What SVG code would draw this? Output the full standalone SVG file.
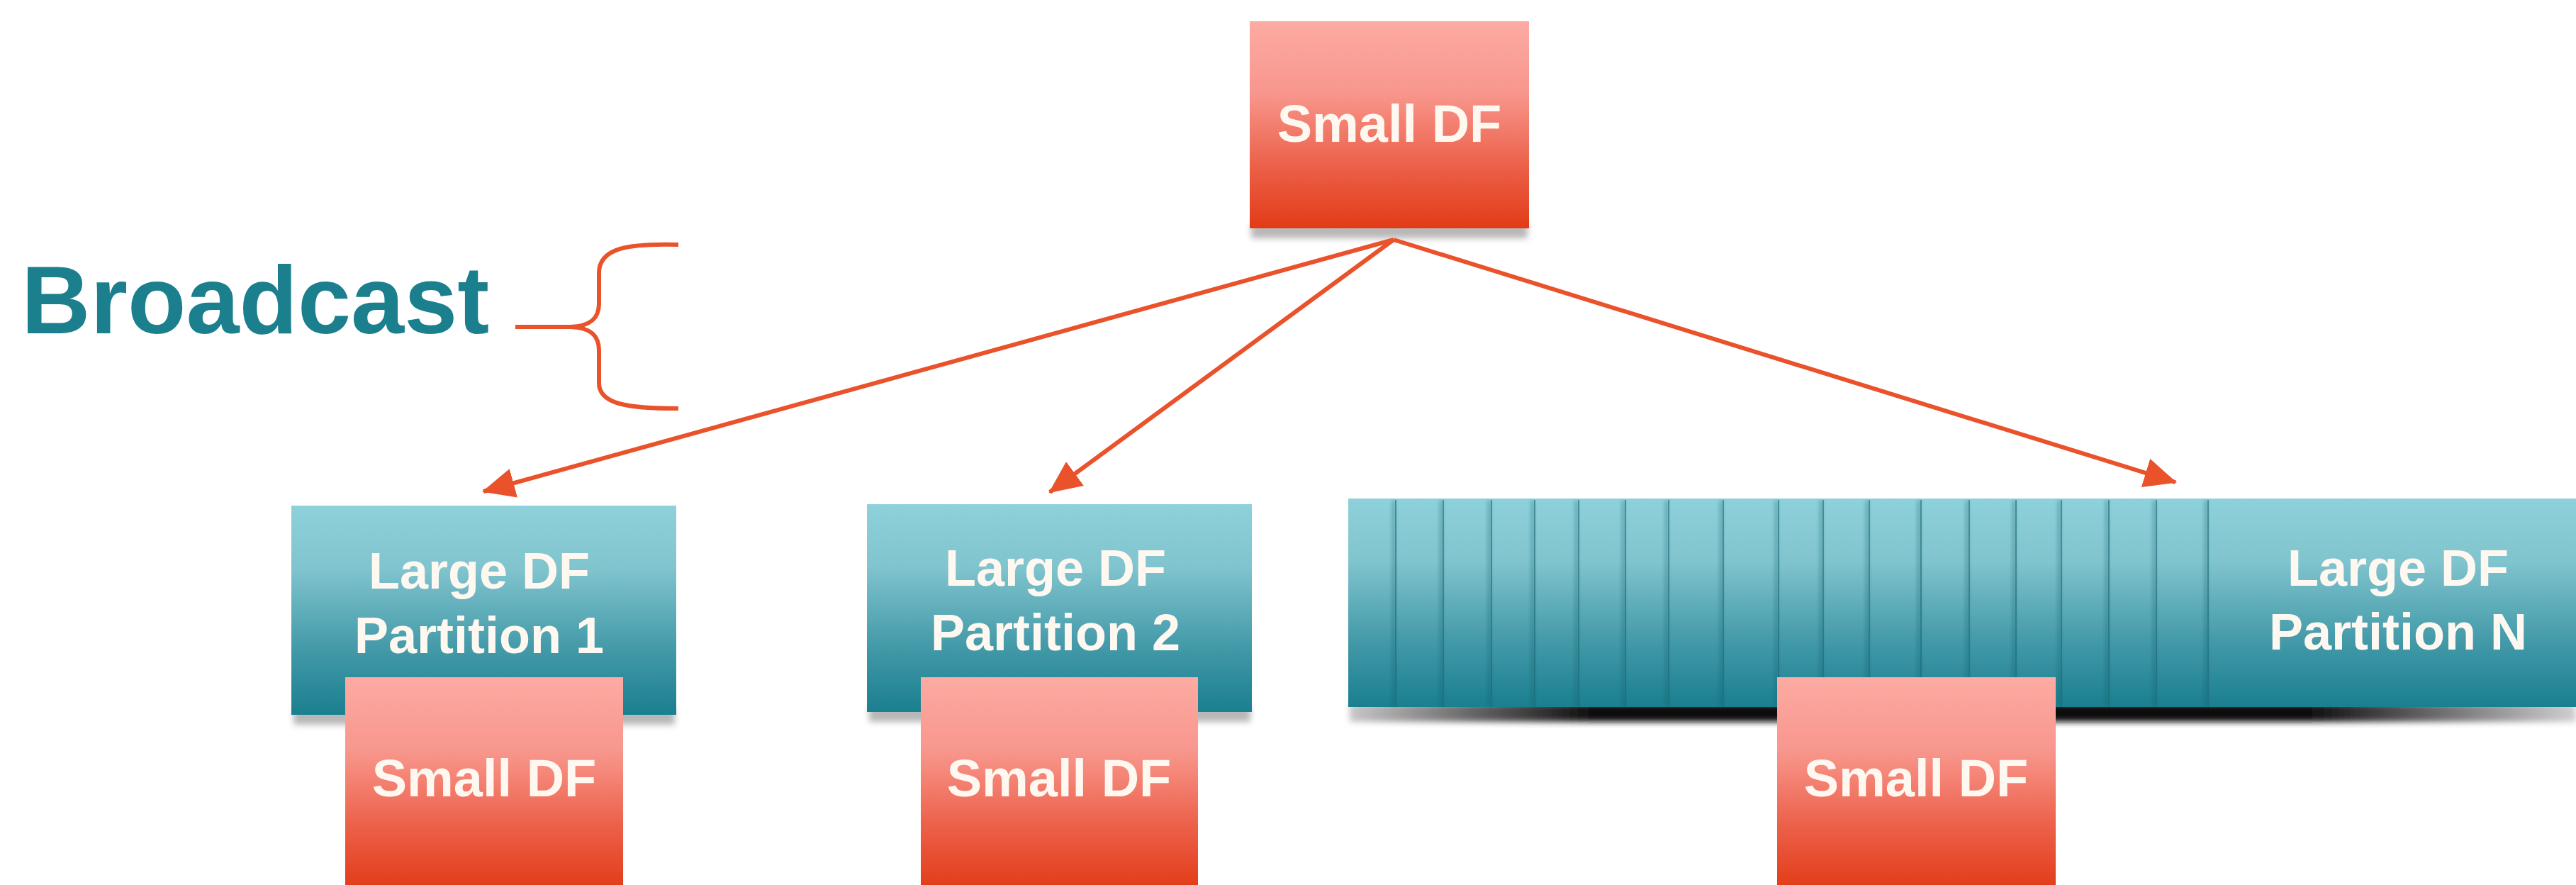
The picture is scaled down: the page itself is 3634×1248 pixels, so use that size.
<svg xmlns="http://www.w3.org/2000/svg" width="3634" height="1248" viewBox="0 0 3634 1248">
  <defs>
    <linearGradient id="gRed" x1="0" y1="0" x2="0" y2="1">
      <stop offset="0" stop-color="#fcaba3"/>
      <stop offset="0.35" stop-color="#f8968c"/>
      <stop offset="0.7" stop-color="#ec6049"/>
      <stop offset="1" stop-color="#e23b16"/>
    </linearGradient>
    <linearGradient id="gTeal" x1="0" y1="0" x2="0" y2="1">
      <stop offset="0" stop-color="#8fd1da"/>
      <stop offset="0.3" stop-color="#80c4ce"/>
      <stop offset="0.7" stop-color="#4198a7"/>
      <stop offset="1" stop-color="#1a7f8f"/>
    </linearGradient>
    <linearGradient id="gStackShadow" x1="0" y1="0" x2="1" y2="0">
      <stop offset="0" stop-color="#c8c8c8"/>
      <stop offset="0.1" stop-color="#666"/>
      <stop offset="0.2" stop-color="#0d0d0d"/>
      <stop offset="0.78" stop-color="#0d0d0d"/>
      <stop offset="0.9" stop-color="#777"/>
      <stop offset="1" stop-color="#d0d0d0"/>
    </linearGradient>
    <filter id="blur" x="-10%" y="-100%" width="120%" height="300%">
      <feGaussianBlur stdDeviation="4"/>
    </filter>
    <filter id="seamBlur" x="-200%" y="-5%" width="500%" height="110%">
      <feGaussianBlur stdDeviation="2"/>
    </filter>
    <marker id="head" markerUnits="userSpaceOnUse" markerWidth="46" markerHeight="42" refX="44" refY="21" orient="auto">
      <path d="M0,0 L46,21 L0,42 z" fill="#e9522a"/>
    </marker>
  </defs>
  <style>
    .lbl { font-family: "Liberation Sans", Arial, sans-serif; font-weight: bold; fill: #fff8f1; text-anchor: middle; }
    .small { font-size: 74px; }
    .large { font-size: 72px; }
    .edge { stroke: #e9522a; stroke-width: 6; fill: none; }
    .red { fill: url(#gRed); }
    .teal { fill: url(#gTeal); }
    .shade { fill: #9a9a9a; opacity: 0.7; filter: url(#blur); }
    .seam { stroke: #1c6b78; stroke-width: 2; stroke-opacity: 0.6; }
    .seamShade { fill: #0f5a66; opacity: 0.25; filter: url(#seamBlur); }
  </style>

  <rect width="3634" height="1248" fill="#ffffff"/>

  <!-- label and brace on the left -->
  <g id="broadcast-label">
    <text x="30" y="470" font-family="Liberation Sans, Arial, sans-serif" font-weight="bold" font-size="135" fill="#1b7f8d">Broadcast</text>
    <path class="edge" d="M957,345 C885,343 845,350 845,385 L845,428 C845,450 832,460 805,461 L727,461 M805,461 C832,462 845,472 845,494 L845,540 C845,570 885,576 957,576"/>
  </g>

  <!-- source table -->
  <g id="small-df-source">
    <rect class="shade" x="1765" y="316" width="390" height="20"/>
    <rect class="red" x="1763" y="30" width="394" height="292"/>
    <text class="lbl small" x="1960" y="200">Small DF</text>
  </g>

  <!-- partition 1 -->
  <g id="partition-1">
    <rect class="shade" x="414" y="1000" width="538" height="22"/>
    <rect class="teal" x="411" y="713" width="543" height="295"/>
    <text class="lbl large" x="676" y="830">Large DF</text>
    <text class="lbl large" x="676" y="921">Partition 1</text>
  </g>
  <g id="small-df-1">
    <rect class="red" x="487" y="955" width="392" height="300"/>
    <text class="lbl small" x="683" y="1123">Small DF</text>
  </g>

  <!-- partition 2 -->
  <g id="partition-2">
    <rect class="shade" x="1226" y="996" width="538" height="22"/>
    <rect class="teal" x="1223" y="711" width="543" height="293"/>
    <text class="lbl large" x="1489" y="826">Large DF</text>
    <text class="lbl large" x="1489" y="917">Partition 2</text>
  </g>
  <g id="small-df-2">
    <rect class="red" x="1299" y="955" width="391" height="300"/>
    <text class="lbl small" x="1494" y="1123">Small DF</text>
  </g>

  <!-- partition N: a stack of overlapping partitions -->
  <g id="partition-n">
    <rect x="1904" y="992" width="1730" height="26" fill="url(#gStackShadow)" filter="url(#blur)"/>
    <rect class="teal" x="1902" y="703" width="1732" height="294"/>
    <g>
      <rect class="seamShade" x="1963" y="706" width="6" height="290"/>
      <rect class="seamShade" x="2030" y="706" width="6" height="290"/>
      <rect class="seamShade" x="2098" y="706" width="6" height="290"/>
      <rect class="seamShade" x="2159" y="706" width="6" height="290"/>
      <rect class="seamShade" x="2221" y="706" width="6" height="290"/>
      <rect class="seamShade" x="2287" y="706" width="6" height="290"/>
      <rect class="seamShade" x="2348" y="706" width="6" height="290"/>
      <rect class="seamShade" x="2425" y="706" width="6" height="290"/>
      <rect class="seamShade" x="2503" y="706" width="6" height="290"/>
      <rect class="seamShade" x="2566" y="706" width="6" height="290"/>
      <rect class="seamShade" x="2631" y="706" width="6" height="290"/>
      <rect class="seamShade" x="2704" y="706" width="6" height="290"/>
      <rect class="seamShade" x="2772" y="706" width="6" height="290"/>
      <rect class="seamShade" x="2838" y="706" width="6" height="290"/>
      <rect class="seamShade" x="2902" y="706" width="6" height="290"/>
      <rect class="seamShade" x="2969" y="706" width="6" height="290"/>
      <rect class="seamShade" x="3036" y="706" width="6" height="290"/>
      <rect class="seamShade" x="3109" y="706" width="6" height="290"/>
    </g>
    <g>
      <line class="seam" x1="1969" y1="705" x2="1969" y2="997"/>
      <line class="seam" x1="2036" y1="705" x2="2036" y2="997"/>
      <line class="seam" x1="2104" y1="705" x2="2104" y2="997"/>
      <line class="seam" x1="2165" y1="705" x2="2165" y2="997"/>
      <line class="seam" x1="2227" y1="705" x2="2227" y2="997"/>
      <line class="seam" x1="2293" y1="705" x2="2293" y2="997"/>
      <line class="seam" x1="2354" y1="705" x2="2354" y2="997"/>
      <line class="seam" x1="2431" y1="705" x2="2431" y2="997"/>
      <line class="seam" x1="2509" y1="705" x2="2509" y2="997"/>
      <line class="seam" x1="2572" y1="705" x2="2572" y2="997"/>
      <line class="seam" x1="2637" y1="705" x2="2637" y2="997"/>
      <line class="seam" x1="2710" y1="705" x2="2710" y2="997"/>
      <line class="seam" x1="2778" y1="705" x2="2778" y2="997"/>
      <line class="seam" x1="2844" y1="705" x2="2844" y2="997"/>
      <line class="seam" x1="2908" y1="705" x2="2908" y2="997"/>
      <line class="seam" x1="2975" y1="705" x2="2975" y2="997"/>
      <line class="seam" x1="3042" y1="705" x2="3042" y2="997"/>
      <line class="seam" x1="3115" y1="705" x2="3115" y2="997"/>
    </g>
    <text class="lbl large" x="3383" y="826">Large DF</text>
    <text class="lbl large" x="3383" y="916">Partition N</text>
  </g>
  <g id="small-df-n">
    <rect class="red" x="2507" y="955" width="393" height="300"/>
    <text class="lbl small" x="2703" y="1123">Small DF</text>
  </g>

  <!-- broadcast arrows -->
  <g id="connectors">
    <line class="edge" x1="1966" y1="338" x2="682" y2="693" marker-end="url(#head)"/>
    <line class="edge" x1="1966" y1="338" x2="1481" y2="694" marker-end="url(#head)"/>
    <line class="edge" x1="1966" y1="338" x2="3069" y2="680" marker-end="url(#head)"/>
  </g>
</svg>
